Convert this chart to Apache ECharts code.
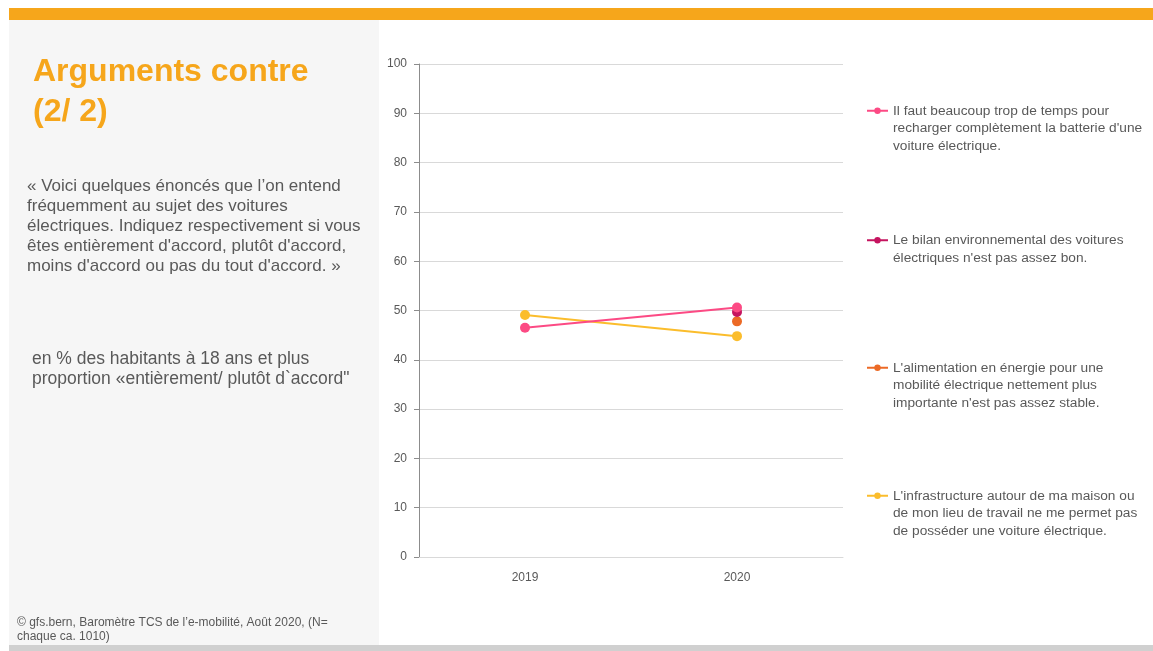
<!DOCTYPE html>
<html>
<head>
<meta charset="utf-8">
<script src="https://cdn.jsdelivr.net/npm/echarts@6/dist/echarts.min.js"></script>
<style>
html,body{margin:0;padding:0;background:#fff;}
#c{width:1153px;height:651px;}
</style>
</head>
<body>
<div id="c"></div>
<script>
var categories = ['2019', '2020'];
var seriesNames = [
  "Il faut beaucoup trop de temps pour\nrecharger complètement la batterie d'une\nvoiture électrique.",
  "Le bilan environnemental des voitures\nélectriques n'est pas assez bon.",
  "L'alimentation en énergie pour une\nmobilité électrique nettement plus\nimportante n'est pas assez stable.",
  "L'infrastructure autour de ma maison ou\nde mon lieu de travail ne me permet pas\nde posséder une voiture électrique."
];
var tempsRecharge = [46.5, 50.6];
var bilanEnv = [null, 49.7];
var alimentation = [null, 47.8];
var infrastructure = [49.1, 44.8];
var yTicks = [0, 10, 20, 30, 40, 50, 60, 70, 80, 90, 100];

var colors = ['#fc4a84', '#c5145f', '#ec6a26', '#fbbd2c'];
var values = [tempsRecharge, bilanEnv, alimentation, infrastructure];
var legendTops = [67, 214, 324, 452];
var leadBlank = ['\n\n', '\n', '\n\n', '\n\n'];

var textColor = '#595959';
var font = 'Liberation Sans, Arial, sans-serif';

var chart = echarts.init(document.getElementById('c'), null, {renderer: 'canvas'});

var series = values.map(function (v, i) {
  return {
    name: seriesNames[i],
    type: 'line',
    data: v,
    connectNulls: false,
    symbol: 'circle',
    symbolSize: 10,
    lineStyle: {width: 2, color: colors[i]},
    itemStyle: {color: colors[i]},
    z: 10 - i
  };
});

var legends = seriesNames.map(function (n, i) {
  return {
    data: [n],
    orient: 'vertical',
    left: 866,
    top: legendTops[i],
    padding: 0,
    itemWidth: 21,
    itemHeight: 8,
    selectedMode: false,
    formatter: function (name) { return leadBlank[i] + name; },
    textStyle: {color: textColor, fontSize: 13.7, fontFamily: font, lineHeight: 17.5}
  };
});

chart.setOption({
  animation: false,
  backgroundColor: '#ffffff',
  textStyle: {fontFamily: font},
  grid: {left: 419, right: 310, top: 64, bottom: 94, containLabel: false},
  legend: legends,
  xAxis: {
    type: 'category',
    data: categories,
    boundaryGap: true,
    axisLine: {lineStyle: {color: '#d9d9d9', width: 1}},
    axisTick: {show: false},
    axisLabel: {color: textColor, fontSize: 12, margin: 15, fontFamily: font}
  },
  yAxis: {
    type: 'value',
    min: yTicks[0],
    max: yTicks[yTicks.length - 1],
    interval: yTicks[1] - yTicks[0],
    axisLine: {show: true, lineStyle: {color: '#8c8c8c', width: 1}},
    axisTick: {show: true, length: 5, lineStyle: {color: '#8c8c8c'}},
    axisLabel: {color: textColor, fontSize: 12, margin: 12, fontFamily: font},
    splitLine: {lineStyle: {color: '#d9d9d9', width: 1}}
  },
  series: series,
  graphic: [
    {type: 'rect', shape: {x: 9, y: 20, width: 370, height: 625}, style: {fill: '#f6f6f6'}, z: -10, silent: true},
    {type: 'rect', shape: {x: 9, y: 8, width: 1144, height: 12}, style: {fill: '#f6a61b'}, z: -10, silent: true},
    {type: 'rect', shape: {x: 9, y: 645, width: 1144, height: 6}, style: {fill: '#d0d0d0'}, z: -10, silent: true},
    {type: 'text', left: 33, top: 52, style: {
      text: 'Arguments contre\n(2/ 2)', fill: '#f6a61b',
      font: 'bold 32px ' + font, lineHeight: 40
    }},
    {type: 'text', left: 27, top: 176, style: {
      text: "« Voici quelques énoncés que l’on entend\nfréquemment au sujet des voitures\nélectriques. Indiquez respectivement si vous\nêtes entièrement d'accord, plutôt d'accord,\nmoins d'accord ou pas du tout d'accord. »",
      fill: textColor, font: '17px ' + font, lineHeight: 20
    }},
    {type: 'text', left: 32, top: 349, style: {
      text: "en % des habitants à 18 ans et plus\nproportion «entièrement/ plutôt d`accord\"",
      fill: textColor, font: '17.5px ' + font, lineHeight: 20
    }},
    {type: 'text', left: 17, top: 616, style: {
      text: "© gfs.bern, Baromètre TCS de l’e-mobilité, Août 2020, (N=\nchaque ca. 1010)",
      fill: textColor, font: '12px ' + font, lineHeight: 14
    }}
  ]
});
</script>
</body>
</html>
